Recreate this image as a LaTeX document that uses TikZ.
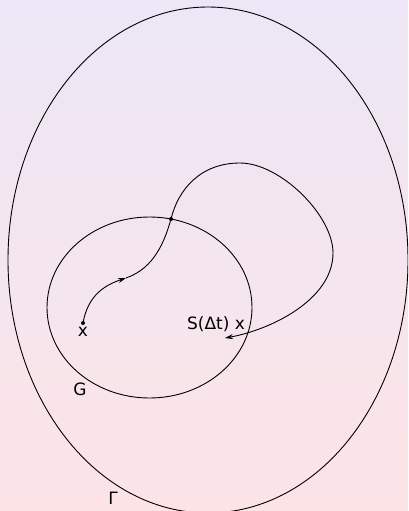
\documentclass[tikz,border=0pt]{standalone}
\usepackage{fontspec}
\newfontfamily\dejavu{DejaVu Sans}
\usetikzlibrary{arrows.meta}
\definecolor{bgtop}{RGB}{236,230,246}
\definecolor{bgbot}{RGB}{252,228,230}
\begin{document}
\begin{tikzpicture}[x=1pt, y=-1pt, font=\dejavu\fontsize{17}{20}\selectfont,
    curve/.style={line width=0.9pt},
    tip/.style={-{Stealth[length=8pt, width=5pt]}}]
    % 背景
    \shade[top color=bgtop, bottom color=bgbot] (0,0) rectangle (408,511);
    \useasboundingbox (0,0) rectangle (408,511);
    \clip (0,0) rectangle (408,511);

    % 区域 Γ 与 G
    \draw[curve] (208,260) ellipse [x radius=200, y radius=253];
    \draw[curve] (149.5,307.5) ellipse [x radius=102.5, y radius=90.5];

    % 轨道上的点
    \coordinate (x0) at (83,323);
    \coordinate (mid) at (126,278);
    \coordinate (exit) at (171,219);
    \coordinate (top) at (240,163);
    \coordinate (east) at (333,253);
    \coordinate (end) at (225,338);
    \fill (x0) circle (2pt);
    \fill (exit) circle (2pt);

    % 轨道 S(t) x
    \draw[curve, tip] (x0) .. controls (88,295) and (105,285) .. (mid);
    \draw[curve] (mid) .. controls (155,268) and (165,240) .. (exit)
        .. controls (178,190) and (200,163) .. (top)
        .. controls (280,163) and (333,215) .. (east);
    \draw[curve, tip] (east) .. controls (333,300) and (270,330) .. (end);

    % 标注
    \node (xlab) at (83,332) {x};
    \node (slab) at (216,324) {S(Δt) x};
    \node (glab) at (80,389) {G};
    \node (gamma) at (113,498) {Γ};
\end{tikzpicture}
\end{document}
